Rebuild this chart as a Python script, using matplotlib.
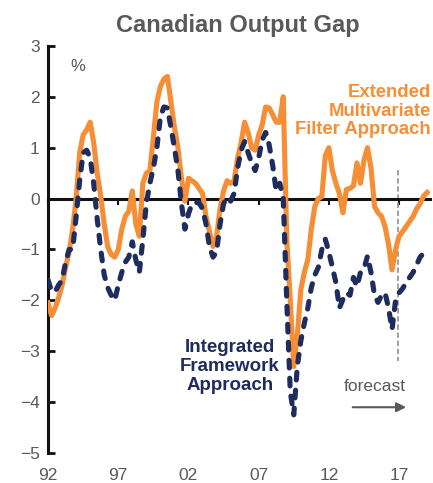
import numpy as np
import matplotlib
matplotlib.use("Agg")
import matplotlib.pyplot as plt

plt.rcParams['font.family'] = ['Liberation Sans', 'DejaVu Sans']

# quarterly, starting 1992Q1
start_year = 1992
emvf = [-2.05, -2.3, -2.15, -1.95, -1.7, -1.35, -1.05, -0.6, 0.0, 0.9,
        1.25, 1.35, 1.5, 1.1, 0.5, 0.05, -0.5, -0.95, -1.1, -1.15,
        -1.0, -0.6, -0.35, -0.25, 0.15, -0.5, -0.74, 0.3, 0.5, 0.55,
        1.2, 1.9, 2.2, 2.35, 2.4, 1.9, 1.4, 1.0, 0.4, -0.05,
        0.4, 0.35, 0.3, 0.2, 0.1, -0.35, -0.65, -0.94, -0.75, -0.2,
        0.15, 0.35, 0.3, 0.35, 0.8, 1.1, 1.5, 1.3, 1.0, 0.95,
        1.25, 1.45, 1.8, 1.78, 1.65, 1.5, 1.5, 2.0, -0.8, -2.0,
        -3.3, -2.7, -1.8, -1.45, -1.2, -0.6, -0.15, 0.0, 0.04, 0.85,
        1.0, 0.55, 0.3, 0.1, -0.28, 0.18, 0.2, 0.25, 0.7, 0.3,
        0.75, 1.0, 0.6, -0.15, -0.28, -0.35, -0.55, -0.9, -1.4, -1.0,
        -0.74, -0.65, -0.55, -0.45, -0.35, -0.2, -0.1, 0.05, 0.12]
integrated = [-1.6, -1.82, -1.83, -1.7, -1.6, -1.25, -1.0, -1.0, -0.35, 0.35,
              0.9, 0.95, 0.8, 0.3, -0.4, -1.0, -1.5, -1.75, -1.9, -2.0,
              -1.7, -1.45, -1.25, -1.15, -0.85, -1.2, -1.45, -0.8, -0.1, 0.3,
              0.6, 1.0, 1.6, 1.8, 1.78, 1.4, 1.0, 0.55, -0.1, -0.6,
              -0.3, -0.1, -0.08, -0.08, -0.2, -0.5, -0.95, -1.15, -1.05, -0.5,
              -0.1, 0.02, -0.05, 0.1, 0.6, 0.95, 1.12, 0.9, 0.7, 0.55,
              0.8, 1.15, 1.3, 1.05, 0.65, 0.15, 0.3, 0.0, -2.0, -3.8,
              -4.25, -3.3, -2.8, -2.45, -2.15, -1.75, -1.5, -1.35, -1.0, -0.8,
              -1.05, -1.35, -1.65, -2.15, -1.98, -1.85, -1.9, -1.55, -1.73, -1.45,
              -1.38, -1.13, -1.45, -1.9, -2.04, -1.9, -1.85, -2.15, -2.57, -2.0,
              -1.85, -1.77, -1.65, -1.55, -1.45, -1.3, -1.15, -1.07, -1.02]
tick_years = [1992, 1997, 2002, 2007, 2012, 2017]
tick_labels = ['92', '97', '02', '07', '12', '17']
y_ticks = [3, 2, 1, 0, -1, -2, -3, -4, -5]
forecast_start = 2016.9

orange = '#F68E35'
navy = '#1E2C5E'
grey = '#595959'

t = start_year + np.arange(len(emvf)) / 4.0

fig = plt.figure(figsize=(4.33, 4.83), dpi=100)
ax = fig.add_axes([0.111, 0.062, 0.882, 0.843])

ax.plot(t, emvf, color=orange, lw=3.7, solid_joinstyle='round', zorder=3)
ax.plot(t, integrated, color=navy, lw=3.7, dashes=(1.5, 2.0),
        dash_capstyle='round', zorder=4)

ax.plot([forecast_start, forecast_start], [0.57, -3.2], color='#999999',
        lw=1.3, ls=(0, (3, 1.5)), zorder=2)

ax.set_xlim(1992, 2019.2)
ax.set_ylim(-5, 3)

for s in ['top', 'right']:
    ax.spines[s].set_visible(False)
ax.spines['left'].set_linewidth(2.2)
ax.spines['left'].set_color('#111111')
ax.spines['bottom'].set_position(('data', 0))
ax.spines['bottom'].set_linewidth(2.2)
ax.spines['bottom'].set_color('#111111')

ax.set_yticks(y_ticks)
ax.tick_params(axis='y', direction='in', length=5, width=2, color='#111111',
               labelsize=12.5, labelcolor=grey, pad=6)
ax.set_xticks(tick_years)
ax.tick_params(axis='x', direction='out', length=4, width=1.5,
               color='#111111', labelbottom=False)

sec = ax.secondary_xaxis('bottom')
sec.set_xticks(tick_years, tick_labels)
sec.spines['bottom'].set_visible(False)
sec.tick_params(length=0, labelsize=12.5, labelcolor=grey, pad=11)

ax.text(1993.6, 2.6, '%', fontsize=12, color=grey, va='center')

fig.text(0.55, 0.948, 'Canadian Output Gap', ha='center', va='center',
         fontsize=17, fontweight='bold', color=grey)

ax.text(2019.25, 1.72, 'Extended\nMultivariate\nFilter Approach', ha='right',
        va='center', fontsize=13.3, fontweight='bold', color=orange,
        linespacing=1.12)
ax.text(2004.95, -3.3, 'Integrated\nFramework\nApproach', ha='center',
        va='center', fontsize=13.5, fontweight='bold', color=navy,
        linespacing=1.12)

ax.text(2015.3, -3.7, 'forecast', ha='center', va='center', fontsize=12.5,
        color=grey)
ax.annotate('', xy=(2017.7, -4.1), xytext=(2013.5, -4.1),
            arrowprops=dict(arrowstyle='-|>', color=grey, lw=1.5,
                            mutation_scale=14))

fig.savefig('out.png', dpi=100)
